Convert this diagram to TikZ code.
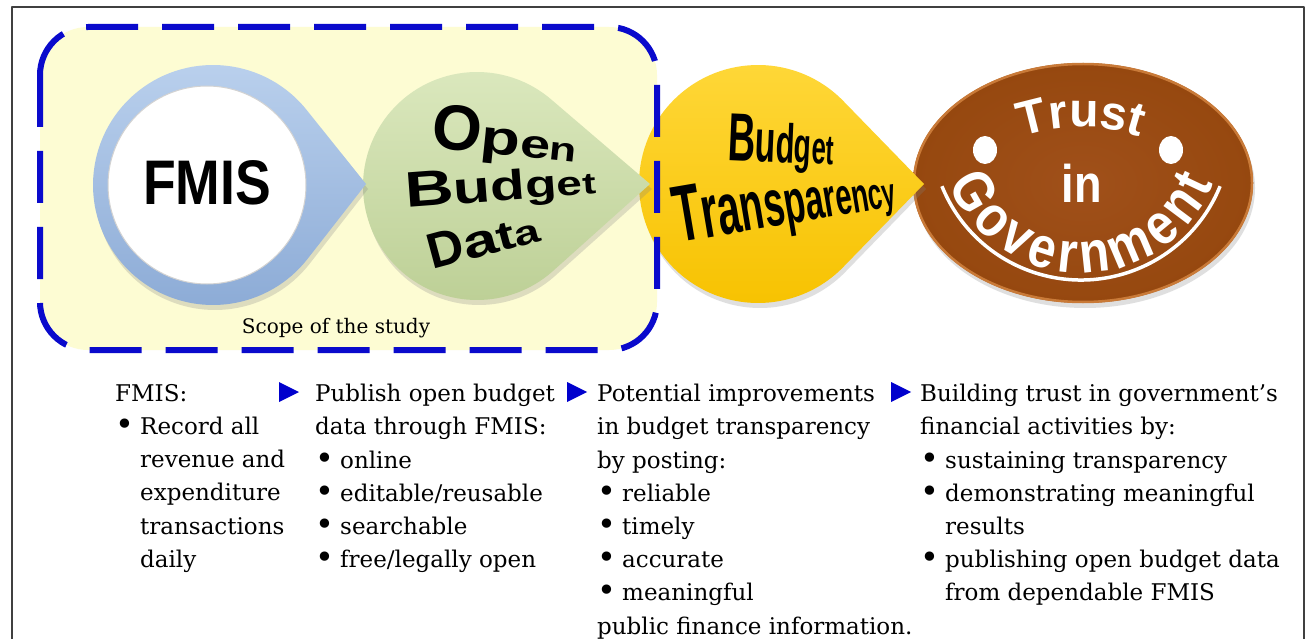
\documentclass[tikz,border=0pt]{standalone}
\usepackage{fontspec}
\usetikzlibrary{calc,decorations.text,shadows}
\newfontfamily\bodyf{DejaVu Serif}
\newfontfamily\sansb{Liberation Sans Bold}
\newfontfamily\sansbc{Liberation Sans Bold}[FakeStretch=0.85]
\newfontfamily\sansbw{Liberation Sans Bold}[FakeStretch=1.35]
\newfontfamily\sansbn{Liberation Sans Bold}[FakeStretch=0.56]
\newcommand\ltr[2]{{\fontsize{#1}{#1}\selectfont #2}}
\newcommand\bul{\makebox[25pt][l]{{\fontsize{32}{32}\selectfont\raisebox{-1pt}{•}}}}
\newcommand\ind{\hspace*{25pt}}
\newcommand\trustfont{\sansb\fontsize{48}{48}\selectfont\color{white}}
\newcommand\govfont{\sansbc\fontsize{58}{58}\selectfont\color{white}}
\definecolor{framec}{HTML}{404040}
\definecolor{scopefill}{HTML}{FDFCD3}
\definecolor{scopeblue}{HTML}{0A0ACC}
\definecolor{ringL}{HTML}{BCD2EE}
\definecolor{ringD}{HTML}{8CABD6}
\definecolor{greenL}{HTML}{DCE9BF}
\definecolor{greenD}{HTML}{BCCF95}
\definecolor{yellL}{HTML}{FFD83A}
\definecolor{yellD}{HTML}{F7C200}
\definecolor{brownM}{HTML}{A0501A}
\definecolor{brownD}{HTML}{96480F}
\definecolor{brownL}{HTML}{C97A38}
\definecolor{arrowblue}{HTML}{0000CD}
\tikzset{
  shapeshadow/.style={drop shadow={opacity=0.25, shadow xshift=2pt, shadow yshift=-5pt}},
  wordart/.style={inner sep=0, text=black},
  col/.style={anchor=north west, inner sep=0, align=left, text=black,
    font=\bodyf\fontsize{23}{33.2}\selectfont},
  marker/.style={fill=arrowblue}
}
\begin{document}
\begin{tikzpicture}[x=1pt,y=-1pt,line join=round]
\useasboundingbox (0,0) rectangle (1309,639);
\fill[white] (0,0) rectangle (1309,639);
% outer frame
\draw[framec, line width=1.6] (12,639) -- (12,7) -- (1304,7) -- (1304,639);
% scope area
\fill[scopefill, rounded corners=48pt] (40,27) rectangle (657,350);
% Trust in Government
\shade[inner color=brownM, outer color=brownD, shapeshadow] (1083,183) ellipse [x radius=170, y radius=120];
\draw[brownL, line width=2.5] (1083,183) ellipse [x radius=169, y radius=119];
% Budget Transparency
\shade[top color=yellL, bottom color=yellD, shapeshadow] (924,184) -- ($(758,184)+(-44.2:119)$) arc[start angle=-44.2, end angle=-315.8, radius=119] -- cycle;
% Open Budget Data
\shade[top color=greenL, bottom color=greenD, shapeshadow] (650,184) -- ($(477,186)+(-48.8:114)$) arc[start angle=-48.8, end angle=-311.2, radius=114] -- cycle;
% FMIS
\shade[top color=ringL, bottom color=ringD, shapeshadow] (366,184) -- ($(213,185)+(-38.3:120)$) arc[start angle=-38.3, end angle=-321.7, radius=120] -- cycle;
\fill[white] (207,185) circle (99);
\draw[gray!35, line width=1] (207,185) circle (99);
% dashed scope border
\draw[scopeblue, line width=6, dash pattern=on 52pt off 24pt, rounded corners=48pt] (40,27) rectangle (657,350);
\node[font=\bodyf\fontsize{20}{20}\selectfont, anchor=base, inner sep=0] (scope) at (336,333) {Scope of the study};
% shape texts
\node[wordart] (fmis) at (207,183) {\sansbc\fontsize{63}{63}\selectfont FMIS};
\node[wordart, anchor=base west, rotate=-6] (open) at (430,147) {\sansb\ltr{64}{O}\sansbw\ltr{48}{p}\ltr{40}{e}\ltr{33}{n}};
\node[wordart, anchor=base west, rotate=4.3] (budget) at (406,208) {\sansbw\ltr{50}{B}\ltr{45}{u}\ltr{42}{d}\ltr{38}{g}\ltr{34}{e}\ltr{30}{t}};
\node[wordart, anchor=base west, rotate=15] (data) at (432,270) {\sansb\ltr{50}{D}\sansbw\ltr{46}{a}\ltr{40}{t}\ltr{34}{a}};
\node[wordart, anchor=base west, rotate=-2.5] (bt1) at (727,160) {\sansbn\ltr{68}{B}\ltr{60}{u}\ltr{55}{d}\ltr{50}{g}\ltr{46}{e}\ltr{42}{t}};
\node[wordart, anchor=base west, rotate=9.6] (bt2) at (678,243) {\sansbn\ltr{80}{T}\ltr{76}{r}\ltr{73}{a}\ltr{69}{n}\ltr{66}{s}\ltr{62}{p}\ltr{59}{a}\ltr{55}{r}\ltr{52}{e}\ltr{49}{n}\ltr{45}{c}\ltr{42}{y}};
% trust face
\fill[white] (985,150) ellipse [x radius=12, y radius=14];
\fill[white] (1171,150) ellipse [x radius=12, y radius=14];
\draw[white, line width=3.5] ($(1081,130)+(158:150)$) arc[start angle=158, end angle=22, radius=150];
\node[inner sep=0, anchor=base, text=white] (in) at (1082,203) {\sansbc\fontsize{53}{53}\selectfont in};
\path[decorate, decoration={text along path, text align=center, text={|\trustfont|Trust}}]
  ($(1081,311)+(-120:184)$) arc[start angle=-120, end angle=-60, radius=184];
\path[decorate, decoration={text along path, text align={fit to path}, text={|\govfont|Government}}]
  ($(1081,130)+(158:143)$) arc[start angle=158, end angle=22, radius=143];
% columns
\node[col] (c1) at (115,384) {FMIS:\\\bul Record all\\\ind revenue and\\\ind expenditure\\\ind transactions\\\ind daily};
\node[col] (c2) at (315,384) {Publish open budget\\data through FMIS:\\\bul online\\\bul editable/reusable\\\bul searchable\\\bul free/legally open};
\node[col] (c3) at (597,384) {Potential improvements\\in budget transparency\\by posting:\\\bul reliable\\\bul timely\\\bul accurate\\\bul meaningful\\public finance information.};
\node[col] (c4) at (920,384) {Building trust in government’s\\financial activities by:\\\bul sustaining transparency\\\bul demonstrating meaningful\\\ind results\\\bul publishing open budget data\\\ind from dependable FMIS};
% arrow markers
\fill[marker] (279,382) -- (299,392) -- (279,402) -- cycle;
\fill[marker] (567,382) -- (587,392) -- (567,402) -- cycle;
\fill[marker] (891,382) -- (911,392) -- (891,402) -- cycle;
\end{tikzpicture}
\end{document}
